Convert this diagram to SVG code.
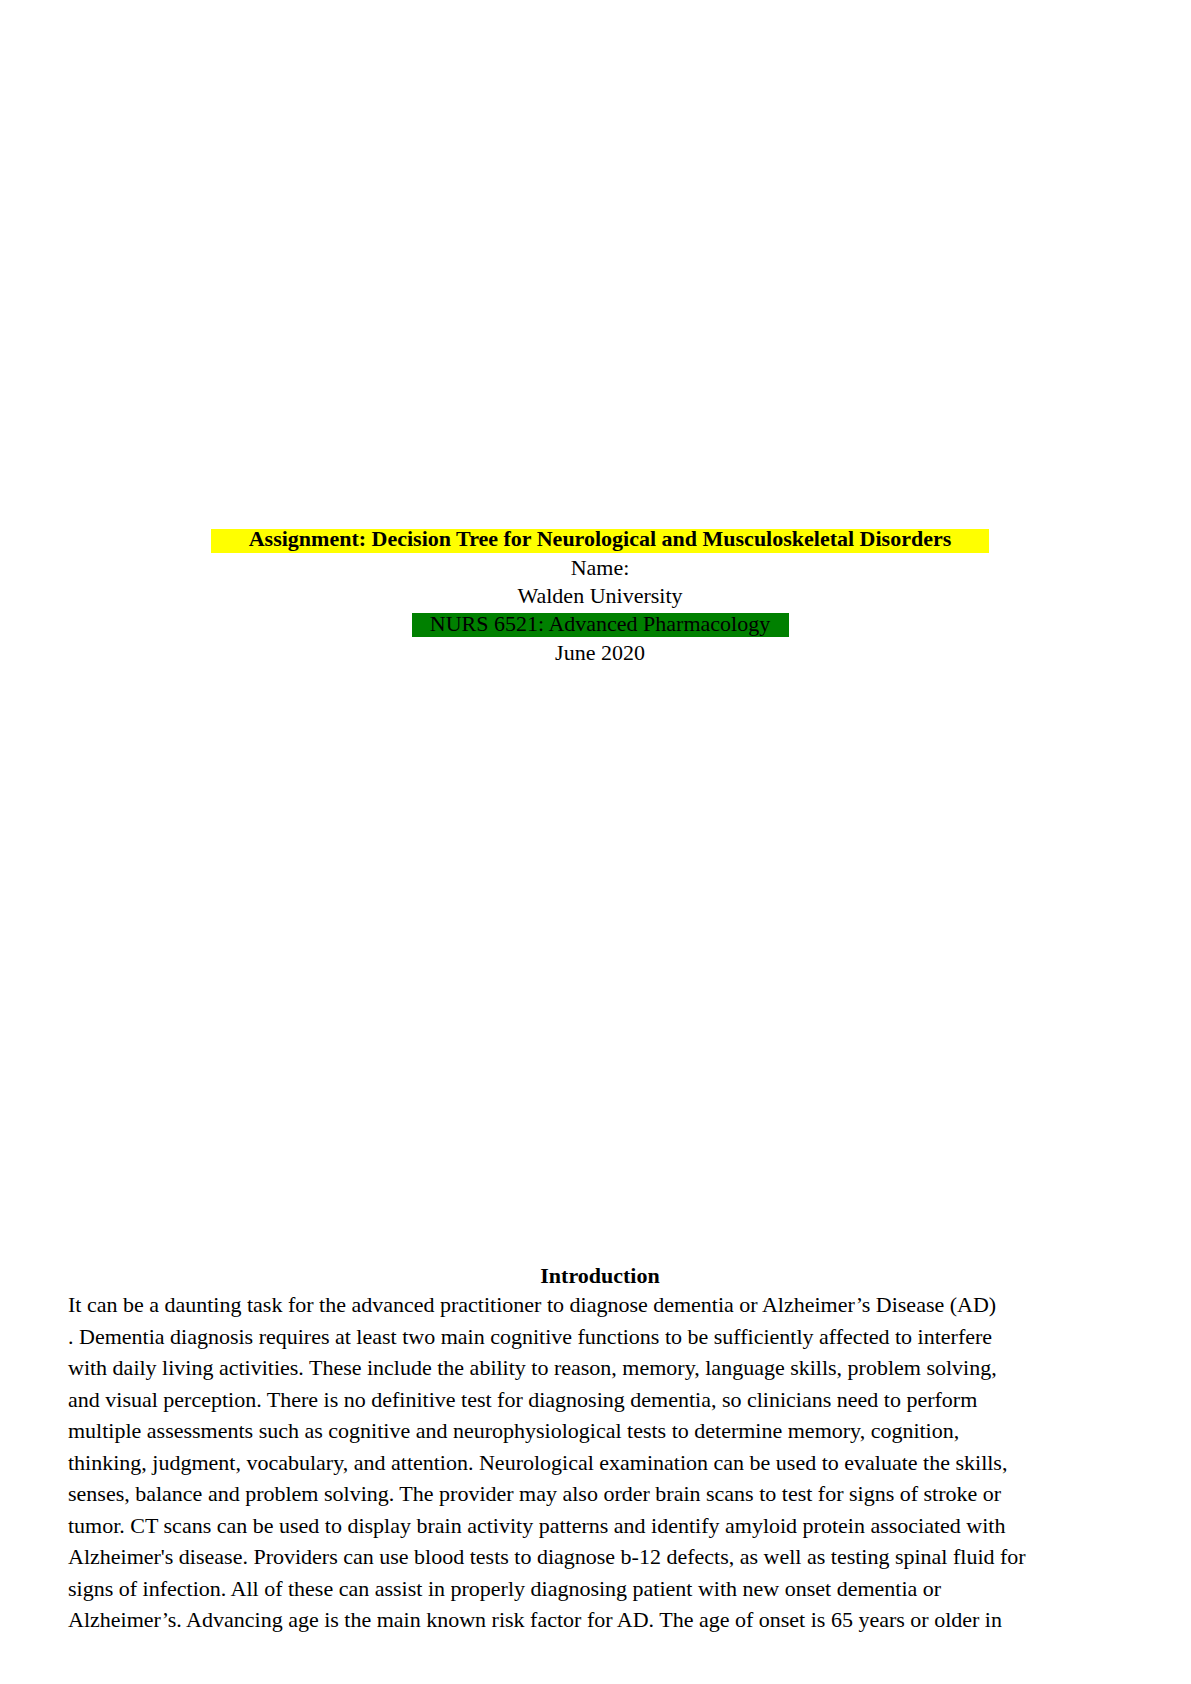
<svg xmlns="http://www.w3.org/2000/svg" width="1191" height="1684" viewBox="0 0 1191 1684">
<style>
text{font-family:"Liberation Serif","Times New Roman",serif;font-size:22px;fill:#000}
.c{text-anchor:middle}
.b{font-weight:bold}
</style>
<rect width="1191" height="1684" fill="#fff"/>
<g id="title">
<rect x="211" y="529" width="778" height="24" fill="#ffff00"/>
<text class="c b" x="600" y="546">Assignment: Decision Tree for Neurological and Musculoskeletal Disorders</text>
<text class="c" x="600" y="575">Name:</text>
<text class="c" x="600" y="603">Walden University</text>
<rect x="412" y="613" width="377" height="24" fill="#008000"/>
<text class="c" x="600" y="631">NURS 6521: Advanced Pharmacology</text>
<text class="c" x="600" y="660">June 2020</text>
</g>
<g id="intro">
<text class="c b" x="600" y="1283">Introduction</text>
<text x="68" y="1312">It can be a daunting task for the advanced practitioner to diagnose dementia or Alzheimer’s Disease (AD)</text>
<text x="68" y="1343.5">. Dementia diagnosis requires at least two main cognitive functions to be sufficiently affected to interfere</text>
<text x="68" y="1375">with daily living activities. These include the ability to reason, memory, language skills, problem solving,</text>
<text x="68" y="1406.5">and visual perception. There is no definitive test for diagnosing dementia, so clinicians need to perform</text>
<text x="68" y="1438">multiple assessments such as cognitive and neurophysiological tests to determine memory, cognition,</text>
<text x="68" y="1469.5">thinking, judgment, vocabulary, and attention. Neurological examination can be used to evaluate the skills,</text>
<text x="68" y="1501">senses, balance and problem solving. The provider may also order brain scans to test for signs of stroke or</text>
<text x="68" y="1532.5">tumor. CT scans can be used to display brain activity patterns and identify amyloid protein associated with</text>
<text x="68" y="1564">Alzheimer's disease. Providers can use blood tests to diagnose b-12 defects, as well as testing spinal fluid for</text>
<text x="68" y="1595.5">signs of infection. All of these can assist in properly diagnosing patient with new onset dementia or</text>
<text x="68" y="1627">Alzheimer’s. Advancing age is the main known risk factor for AD. The age of onset is 65 years or older in</text>
</g>
</svg>
